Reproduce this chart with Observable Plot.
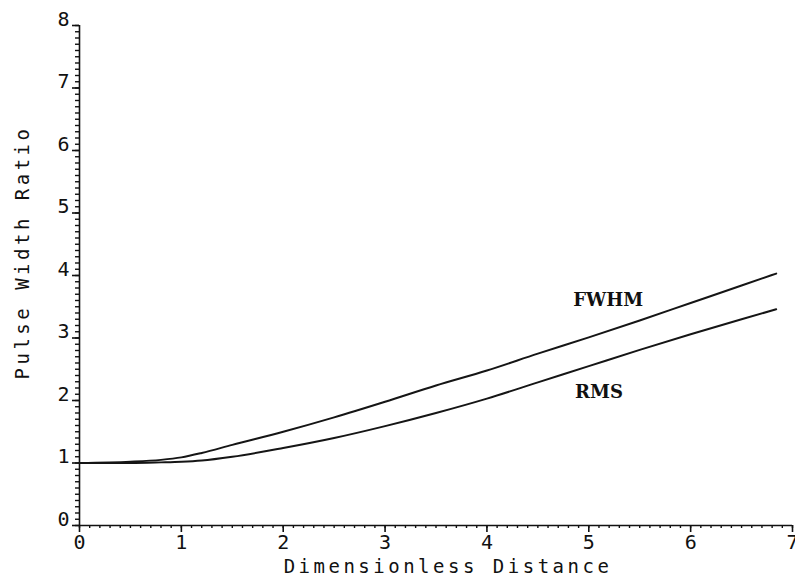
<!DOCTYPE html>
<html>
<head>
<meta charset="utf-8">
<script src="https://cdn.jsdelivr.net/npm/d3@7"></script>
<script src="https://cdn.jsdelivr.net/npm/@observablehq/plot@0.6"></script>
<style>
  html, body { margin: 0; padding: 0; background: #fff; }
  #chart svg { display: block; }
  .ttl text { letter-spacing: 3.5px; }
</style>
</head>
<body>
<div id="chart"></div>
<script>
const xTicks = [0, 1, 2, 3, 4, 5, 6, 7];
const yTicks = [0, 1, 2, 3, 4, 5, 6, 7, 8];
const distance = [0, 0.5, 0.8, 1, 1.2, 1.5, 2, 2.5, 3, 3.5, 4, 4.5, 5, 5.5, 6, 6.5, 6.84];
const fwhm =     [1, 1.02, 1.05, 1.09, 1.16, 1.29, 1.50, 1.73, 1.98, 2.24, 2.48, 2.75, 3.01, 3.28, 3.56, 3.84, 4.03];
const rms =      [1, 1.00, 1.01, 1.02, 1.04, 1.10, 1.24, 1.40, 1.59, 1.80, 2.03, 2.29, 2.55, 2.81, 3.06, 3.30, 3.46];
const curveNames = ["FWHM", "RMS"];
const curveLabelX = [5.19, 5.10];
const curveLabelY = [3.60, 2.13];
const xTitle = "Dimensionless Distance";
const yTitle = "Pulse Width Ratio";

const rows = [];
distance.forEach((d, i) => {
  rows.push({series: "FWHM", x: d, y: fwhm[i]});
  rows.push({series: "RMS", x: d, y: rms[i]});
});
const labels = curveNames.map((n, i) => ({name: n, x: curveLabelX[i], y: curveLabelY[i]}));
const minorX = d3.range(0, 71).map(i => i / 10);
const minorY = d3.range(0, 81).map(i => i / 10);
const mono = "DejaVu Sans Mono";
const fmt = d => String(d);

const plot = Plot.plot({
  width: 795,
  height: 580,
  marginLeft: 79,
  marginRight: 3,
  marginTop: 25,
  marginBottom: 55,
  style: {background: "#fff", color: "#111"},
  x: {domain: [0, 7]},
  y: {domain: [0, 8]},
  marks: [
    Plot.axisX({ticks: minorX, tickSize: 3, label: null, tickFormat: () => "", strokeWidth: 1.4}),
    Plot.axisY({ticks: minorY, tickSize: 4, label: null, tickFormat: () => "", strokeWidth: 1.4}),
    Plot.axisX({ticks: xTicks, tickSize: 7, tickPadding: 2, label: null, tickFormat: fmt, fontFamily: mono, fontSize: 20, strokeWidth: 1.6}),
    Plot.axisY({ticks: yTicks, tickSize: 7, label: null, tickFormat: () => "", strokeWidth: 1.6}),
    Plot.axisY({ticks: yTicks, tickSize: 0, tickPadding: 10, label: null, tickFormat: fmt, fontFamily: mono, fontSize: 20, dy: -6}),
    Plot.ruleY([0], {stroke: "#111", strokeWidth: 1.6}),
    Plot.ruleX([0], {stroke: "#111", strokeWidth: 1.6}),
    Plot.line(rows, {x: "x", y: "y", z: "series", stroke: "#151515", strokeWidth: 2, curve: "monotone-x"}),
    Plot.text(labels, {x: "x", y: "y", text: "name", fontFamily: "DejaVu Serif", fontWeight: "bold", fontSize: 18, fill: "#111"}),
    Plot.text([xTitle], {frameAnchor: "bottom", textAnchor: "middle", dx: 12, dy: 47, fontFamily: mono, fontSize: 19, fill: "#111", className: "ttl"}),
    Plot.text([yTitle], {frameAnchor: "left", textAnchor: "middle", rotate: -90, dx: -57, dy: -23, fontFamily: mono, fontSize: 19, fill: "#111", className: "ttl"})
  ]
});
document.getElementById("chart").appendChild(plot);
</script>
</body>
</html>
